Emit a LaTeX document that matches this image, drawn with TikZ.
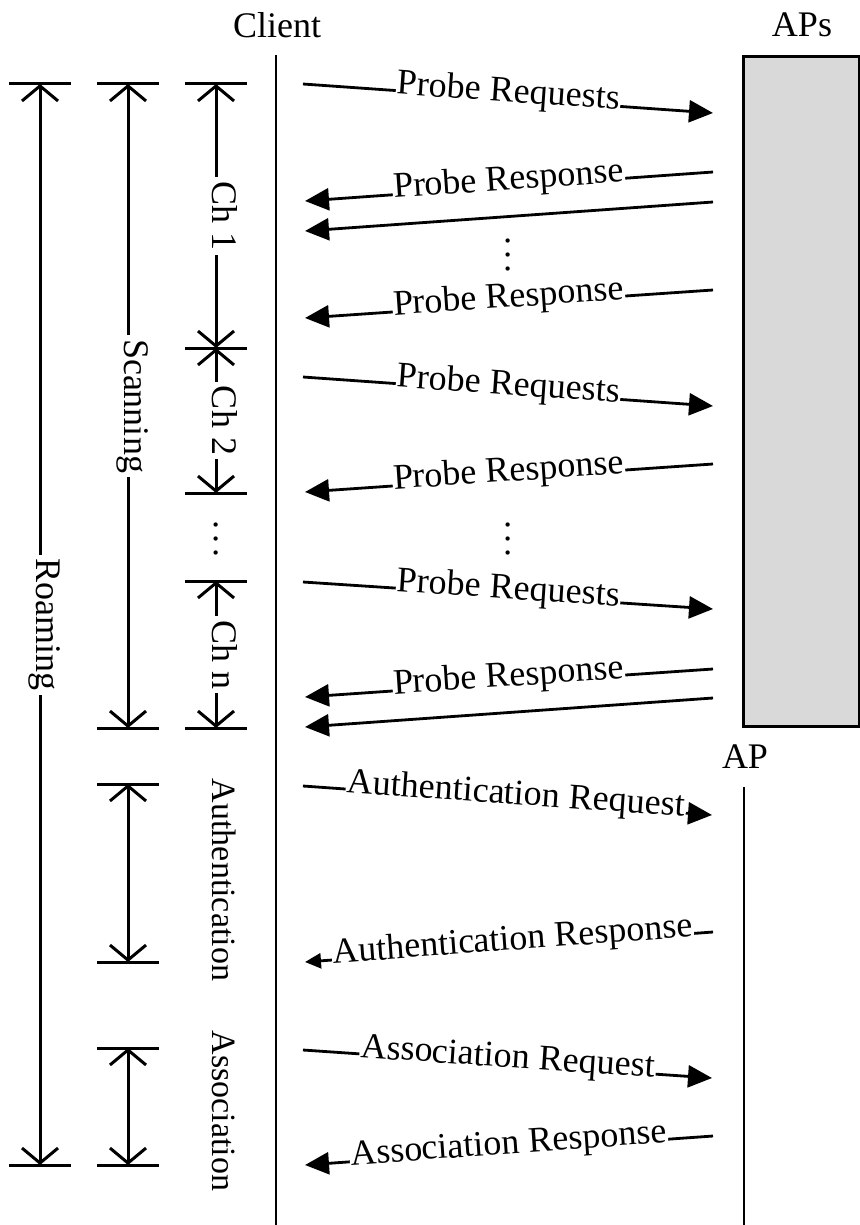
\documentclass[tikz,border=0pt]{standalone}
\usepackage{fontspec}
\setmainfont{Liberation Serif}
\usetikzlibrary{arrows.meta}
\definecolor{apfill}{RGB}{217,217,217}
\begin{document}
\begin{tikzpicture}[x=1pt,y=-1pt,
  every node/.style={inner sep=0pt, font=\fontsize{36}{40}\selectfont},
  line/.style={line width=2.8pt},
  tick/.style={line width=3pt},
  barb/.tip={Straight Barb[length=15pt,width=36pt,line width=3pt]},
  span/.style={line width=3pt, barb-barb},
  msg/.style={line width=2.8pt, -{Triangle[length=24pt,width=22pt]}},
  smallmsg/.style={line width=2.8pt, -{Triangle[length=16pt,width=15pt]}},
  lbl/.style={fill=white, sloped, text height=0.66em, text depth=0pt, inner xsep=1pt},
  vlbl/.style={fill=white, rotate=-90, text height=0.66em, text depth=0pt, inner xsep=4pt},
  side/.style={rotate=-90, text height=0.66em, text depth=0pt, font=\fontsize{34}{38}\selectfont},
  dots/.style={rotate=-90, anchor=base}
]
\useasboundingbox (0,0) rectangle (859,1225);

% headings and lifelines
\node (client) at (277,25) {Client};
\node (aps) at (802,25) {APs};
\node (ap) at (745,757) {AP};
\draw[line] (276,55) coordinate (cltop) -- (276,1225) coordinate (clbot);
\node[draw, fill=apfill, line width=2.8pt, minimum width=116pt, minimum height=670pt, anchor=north west] (apbox) at (742,55) {};
\draw[line] (744,787) coordinate (aptop) -- (744,1225) coordinate (apbot);

% bracket end points
\coordinate (rT) at (40,84);    \coordinate (rB) at (40,1165);
\coordinate (sT) at (128,84);   \coordinate (sB) at (128,728);
\coordinate (c1T) at (216,84);  \coordinate (c1B) at (216,348);
\coordinate (c2B) at (216,493);
\coordinate (cnT) at (216,581); \coordinate (cnB) at (216,728);
\coordinate (auT) at (128,784); \coordinate (auB) at (128,962);
\coordinate (asT) at (128,1048); \coordinate (asB) at (128,1165);

% horizontal ticks
\foreach \p in {rT,rB,sT,sB,c1T,c1B,c2B,cnT,cnB,auT,auB,asT,asB}
  \draw[tick] ([xshift=-31pt]\p) -- ([xshift=31pt]\p);

% phase spans
\draw[span] (rT) -- node[vlbl] {Roaming} (rB);
\draw[span] (sT) -- node[vlbl] {Scanning} (sB);
\draw[span] (c1T) -- node[vlbl] {Ch 1} (c1B);
\draw[span] (c1B) -- node[vlbl] {Ch 2} (c2B);
\draw[span] (cnT) -- node[vlbl] {Ch n} (cnB);
\draw[span] (auT) -- (auB);
\draw[span] (asT) -- (asB);
\node[dots] (chdots) at (214,539) {.\kern0.15em.\kern0.15em.};
\node[side] (auth) at (216,880) {Authentication};
\node[side] (assoc) at (216,1111) {Association};

% message end points
\coordinate (m1a) at (303,84);   \coordinate (m1b) at (713,113);
\coordinate (m2a) at (713,172);  \coordinate (m2b) at (305,201);
\coordinate (m3a) at (713,202);  \coordinate (m3b) at (305,231);
\coordinate (m5a) at (713,290);  \coordinate (m5b) at (305,318);
\coordinate (m6a) at (303,377);  \coordinate (m6b) at (713,406);
\coordinate (m7a) at (713,464);  \coordinate (m7b) at (305,492);
\coordinate (m9a) at (303,582);  \coordinate (m9b) at (713,609);
\coordinate (m10a) at (713,669); \coordinate (m10b) at (305,697);
\coordinate (m11a) at (713,698); \coordinate (m11b) at (305,727);
\coordinate (m12a) at (303,786); \coordinate (m12b) at (712,815);
\coordinate (m13a) at (713,932); \coordinate (m13b) at (305,962);
\coordinate (m14a) at (303,1050); \coordinate (m14b) at (712,1078);
\coordinate (m15a) at (713,1136); \coordinate (m15b) at (305,1165);

% messages
\draw[msg] (m1a) -- node[lbl] {Probe Requests} (m1b);
\draw[msg] (m2a) -- node[lbl] {Probe Response} (m2b);
\draw[msg] (m3a) -- (m3b);
\node[dots] (d1) at (506,255) {.\kern0.15em.\kern0.15em.};
\draw[msg] (m5a) -- node[lbl] {Probe Response} (m5b);
\draw[msg] (m6a) -- node[lbl] {Probe Requests} (m6b);
\draw[msg] (m7a) -- node[lbl] {Probe Response} (m7b);
\node[dots] (d2) at (506,539) {.\kern0.15em.\kern0.15em.};
\draw[msg] (m9a) -- node[lbl] {Probe Requests} (m9b);
\draw[msg] (m10a) -- node[lbl] {Probe Response} (m10b);
\draw[msg] (m11a) -- (m11b);
\draw[msg] (m12a) -- node[lbl, pos=0.52] {Authentication Request} (m12b);
\draw[smallmsg] (m13a) -- node[lbl, pos=0.49] {Authentication Response} (m13b);
\draw[msg] (m14a) -- node[lbl] {Association Request} (m14b);
\draw[msg] (m15a) -- node[lbl] {Association Response} (m15b);
\end{tikzpicture}
\end{document}
